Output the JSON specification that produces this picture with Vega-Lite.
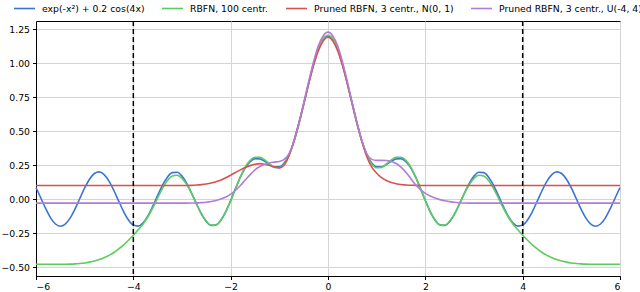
{
 "$schema": "https://vega.github.io/schema/vega-lite/v6.json",
 "width": 584,
 "height": 255,
 "autosize": "none",
 "padding": {"left": 36, "top": 21, "right": 20, "bottom": 16},
 "background": "white",
 "config": {
  "font": "DejaVu Sans",
  "view": {"stroke": "black", "strokeWidth": 1},
  "axis": {"labelFont": "DejaVu Sans", "labelFontSize": 9.3, "labelColor": "black", "domainColor": "black", "tickColor": "black", "tickSize": 3.5, "labelPadding": 3, "gridColor": "#d4d4d4", "gridWidth": 1, "title": null},
  "legend": {"orient": "none", "legendY": -24, "direction": "horizontal", "title": null, "symbolType": "stroke", "symbolSize": 441, "symbolStrokeWidth": 2, "labelFont": "DejaVu Sans", "labelFontSize": 9.3, "labelColor": "black", "labelOffset": 6, "labelLimit": 400, "padding": 0},
  "line": {"strokeWidth": 1.6, "interpolate": "monotone"}
 },
 "datasets": {
  "curves": [
   {"x": -6.0, "f": 0.0848, "rbfn": -0.48, "n01": 0.1, "u44": -0.03},
   {"x": -5.9, "f": 0.0076, "rbfn": -0.48, "n01": 0.1, "u44": -0.03},
   {"x": -5.8, "f": -0.0708, "rbfn": -0.48, "n01": 0.1, "u44": -0.03},
   {"x": -5.7, "f": -0.1381, "rbfn": -0.48, "n01": 0.1, "u44": -0.03},
   {"x": -5.6, "f": -0.1835, "rbfn": -0.48, "n01": 0.1, "u44": -0.03},
   {"x": -5.5, "f": -0.2, "rbfn": -0.48, "n01": 0.1, "u44": -0.03},
   {"x": -5.4, "f": -0.1849, "rbfn": -0.48, "n01": 0.1, "u44": -0.03},
   {"x": -5.3, "f": -0.1406, "rbfn": -0.479, "n01": 0.1, "u44": -0.03},
   {"x": -5.2, "f": -0.0741, "rbfn": -0.477, "n01": 0.1, "u44": -0.03},
   {"x": -5.1, "f": 0.0041, "rbfn": -0.474, "n01": 0.1, "u44": -0.03},
   {"x": -5.0, "f": 0.0816, "rbfn": -0.47, "n01": 0.1, "u44": -0.03},
   {"x": -4.9, "f": 0.1463, "rbfn": -0.464, "n01": 0.1, "u44": -0.03},
   {"x": -4.8, "f": 0.1878, "rbfn": -0.456, "n01": 0.1, "u44": -0.03},
   {"x": -4.7, "f": 0.1998, "rbfn": -0.445, "n01": 0.1, "u44": -0.03},
   {"x": -4.6, "f": 0.1801, "rbfn": -0.431, "n01": 0.1, "u44": -0.03},
   {"x": -4.5, "f": 0.1321, "rbfn": -0.414, "n01": 0.1, "u44": -0.03},
   {"x": -4.4, "f": 0.0632, "rbfn": -0.393, "n01": 0.1, "u44": -0.03},
   {"x": -4.3, "f": -0.0157, "rbfn": -0.367, "n01": 0.1, "u44": -0.03},
   {"x": -4.2, "f": -0.0921, "rbfn": -0.337, "n01": 0.1, "u44": -0.03},
   {"x": -4.1, "f": -0.154, "rbfn": -0.303, "n01": 0.1, "u44": -0.03},
   {"x": -4.0, "f": -0.1915, "rbfn": -0.266, "n01": 0.1, "u44": -0.03},
   {"x": -3.9, "f": -0.1988, "rbfn": -0.226, "n01": 0.1, "u44": -0.03},
   {"x": -3.8, "f": -0.1748, "rbfn": -0.183, "n01": 0.1, "u44": -0.03},
   {"x": -3.7, "f": -0.1231, "rbfn": -0.13, "n01": 0.1, "u44": -0.03},
   {"x": -3.6, "f": -0.052, "rbfn": -0.065, "n01": 0.1, "u44": -0.03},
   {"x": -3.5, "f": 0.0274, "rbfn": 0.008, "n01": 0.1, "u44": -0.03},
   {"x": -3.4, "f": 0.1024, "rbfn": 0.079, "n01": 0.1, "u44": -0.03},
   {"x": -3.3, "f": 0.1612, "rbfn": 0.136, "n01": 0.1, "u44": -0.03},
   {"x": -3.2, "f": 0.1946, "rbfn": 0.17, "n01": 0.1, "u44": -0.03},
   {"x": -3.1, "f": 0.1972, "rbfn": 0.175, "n01": 0.1, "u44": -0.03},
   {"x": -3.0, "f": 0.1688, "rbfn": 0.152, "n01": 0.1, "u44": -0.03},
   {"x": -2.9, "f": 0.1139, "rbfn": 0.105, "n01": 0.1, "u44": -0.03},
   {"x": -2.8, "f": 0.041, "rbfn": 0.04, "n01": 0.101, "u44": -0.029},
   {"x": -2.7, "f": -0.0382, "rbfn": -0.036, "n01": 0.103, "u44": -0.028},
   {"x": -2.6, "f": -0.1113, "rbfn": -0.107, "n01": 0.106, "u44": -0.026},
   {"x": -2.5, "f": -0.1659, "rbfn": -0.162, "n01": 0.111, "u44": -0.023},
   {"x": -2.4, "f": -0.1938, "rbfn": -0.192, "n01": 0.118, "u44": -0.018},
   {"x": -2.3, "f": -0.1899, "rbfn": -0.19, "n01": 0.128, "u44": -0.011},
   {"x": -2.2, "f": -0.1543, "rbfn": -0.156, "n01": 0.14, "u44": 0.0},
   {"x": -2.1, "f": -0.0917, "rbfn": -0.094, "n01": 0.157, "u44": 0.015},
   {"x": -2.0, "f": -0.0108, "rbfn": -0.012, "n01": 0.176, "u44": 0.036},
   {"x": -1.9, "f": 0.0773, "rbfn": 0.077, "n01": 0.196, "u44": 0.065},
   {"x": -1.8, "f": 0.1608, "rbfn": 0.163, "n01": 0.215, "u44": 0.1},
   {"x": -1.7, "f": 0.2295, "rbfn": 0.236, "n01": 0.232, "u44": 0.14},
   {"x": -1.6, "f": 0.2759, "rbfn": 0.285, "n01": 0.246, "u44": 0.18},
   {"x": -1.5, "f": 0.2974, "rbfn": 0.308, "n01": 0.256, "u44": 0.215},
   {"x": -1.4, "f": 0.296, "rbfn": 0.307, "n01": 0.261, "u44": 0.24},
   {"x": -1.3, "f": 0.2782, "rbfn": 0.288, "n01": 0.256, "u44": 0.256},
   {"x": -1.2, "f": 0.2544, "rbfn": 0.258, "n01": 0.247, "u44": 0.266},
   {"x": -1.1, "f": 0.2367, "rbfn": 0.233, "n01": 0.236, "u44": 0.272},
   {"x": -1.0, "f": 0.2372, "rbfn": 0.23, "n01": 0.229, "u44": 0.277},
   {"x": -0.9, "f": 0.2655, "rbfn": 0.257, "n01": 0.25, "u44": 0.292},
   {"x": -0.8, "f": 0.3276, "rbfn": 0.322, "n01": 0.32, "u44": 0.335},
   {"x": -0.7, "f": 0.4242, "rbfn": 0.42, "n01": 0.43, "u44": 0.425},
   {"x": -0.6, "f": 0.5502, "rbfn": 0.548, "n01": 0.56, "u44": 0.555},
   {"x": -0.5, "f": 0.6956, "rbfn": 0.695, "n01": 0.7, "u44": 0.705},
   {"x": -0.4, "f": 0.8463, "rbfn": 0.848, "n01": 0.845, "u44": 0.86},
   {"x": -0.3, "f": 0.9864, "rbfn": 0.99, "n01": 0.98, "u44": 1.005},
   {"x": -0.2, "f": 1.1001, "rbfn": 1.105, "n01": 1.09, "u44": 1.125},
   {"x": -0.1, "f": 1.1743, "rbfn": 1.18, "n01": 1.162, "u44": 1.2},
   {"x": 0.0, "f": 1.2, "rbfn": 1.205, "n01": 1.19, "u44": 1.228},
   {"x": 0.1, "f": 1.1743, "rbfn": 1.18, "n01": 1.162, "u44": 1.2},
   {"x": 0.2, "f": 1.1001, "rbfn": 1.105, "n01": 1.09, "u44": 1.125},
   {"x": 0.3, "f": 0.9864, "rbfn": 0.99, "n01": 0.98, "u44": 1.005},
   {"x": 0.4, "f": 0.8463, "rbfn": 0.848, "n01": 0.845, "u44": 0.86},
   {"x": 0.5, "f": 0.6956, "rbfn": 0.695, "n01": 0.7, "u44": 0.705},
   {"x": 0.6, "f": 0.5502, "rbfn": 0.548, "n01": 0.555, "u44": 0.555},
   {"x": 0.7, "f": 0.4242, "rbfn": 0.42, "n01": 0.42, "u44": 0.425},
   {"x": 0.8, "f": 0.3276, "rbfn": 0.322, "n01": 0.31, "u44": 0.33},
   {"x": 0.9, "f": 0.2655, "rbfn": 0.257, "n01": 0.235, "u44": 0.292},
   {"x": 1.0, "f": 0.2372, "rbfn": 0.23, "n01": 0.19, "u44": 0.285},
   {"x": 1.1, "f": 0.2367, "rbfn": 0.233, "n01": 0.158, "u44": 0.285},
   {"x": 1.2, "f": 0.2544, "rbfn": 0.258, "n01": 0.136, "u44": 0.284},
   {"x": 1.3, "f": 0.2782, "rbfn": 0.288, "n01": 0.122, "u44": 0.277},
   {"x": 1.4, "f": 0.296, "rbfn": 0.307, "n01": 0.113, "u44": 0.262},
   {"x": 1.5, "f": 0.2974, "rbfn": 0.308, "n01": 0.107, "u44": 0.235},
   {"x": 1.6, "f": 0.2759, "rbfn": 0.285, "n01": 0.104, "u44": 0.198},
   {"x": 1.7, "f": 0.2295, "rbfn": 0.236, "n01": 0.102, "u44": 0.152},
   {"x": 1.8, "f": 0.1608, "rbfn": 0.163, "n01": 0.101, "u44": 0.105},
   {"x": 1.9, "f": 0.0773, "rbfn": 0.077, "n01": 0.1, "u44": 0.07},
   {"x": 2.0, "f": -0.0108, "rbfn": -0.012, "n01": 0.1, "u44": 0.042},
   {"x": 2.1, "f": -0.0917, "rbfn": -0.094, "n01": 0.1, "u44": 0.022},
   {"x": 2.2, "f": -0.1543, "rbfn": -0.156, "n01": 0.1, "u44": 0.007},
   {"x": 2.3, "f": -0.1899, "rbfn": -0.19, "n01": 0.1, "u44": -0.004},
   {"x": 2.4, "f": -0.1938, "rbfn": -0.192, "n01": 0.1, "u44": -0.013},
   {"x": 2.5, "f": -0.1659, "rbfn": -0.162, "n01": 0.1, "u44": -0.019},
   {"x": 2.6, "f": -0.1113, "rbfn": -0.107, "n01": 0.1, "u44": -0.024},
   {"x": 2.7, "f": -0.0382, "rbfn": -0.036, "n01": 0.1, "u44": -0.027},
   {"x": 2.8, "f": 0.041, "rbfn": 0.04, "n01": 0.1, "u44": -0.029},
   {"x": 2.9, "f": 0.1139, "rbfn": 0.105, "n01": 0.1, "u44": -0.03},
   {"x": 3.0, "f": 0.1688, "rbfn": 0.152, "n01": 0.1, "u44": -0.03},
   {"x": 3.1, "f": 0.1972, "rbfn": 0.175, "n01": 0.1, "u44": -0.03},
   {"x": 3.2, "f": 0.1946, "rbfn": 0.17, "n01": 0.1, "u44": -0.03},
   {"x": 3.3, "f": 0.1612, "rbfn": 0.136, "n01": 0.1, "u44": -0.03},
   {"x": 3.4, "f": 0.1024, "rbfn": 0.079, "n01": 0.1, "u44": -0.03},
   {"x": 3.5, "f": 0.0274, "rbfn": 0.008, "n01": 0.1, "u44": -0.03},
   {"x": 3.6, "f": -0.052, "rbfn": -0.065, "n01": 0.1, "u44": -0.03},
   {"x": 3.7, "f": -0.1231, "rbfn": -0.13, "n01": 0.1, "u44": -0.03},
   {"x": 3.8, "f": -0.1748, "rbfn": -0.183, "n01": 0.1, "u44": -0.03},
   {"x": 3.9, "f": -0.1988, "rbfn": -0.226, "n01": 0.1, "u44": -0.03},
   {"x": 4.0, "f": -0.1915, "rbfn": -0.266, "n01": 0.1, "u44": -0.03},
   {"x": 4.1, "f": -0.154, "rbfn": -0.303, "n01": 0.1, "u44": -0.03},
   {"x": 4.2, "f": -0.0921, "rbfn": -0.337, "n01": 0.1, "u44": -0.03},
   {"x": 4.3, "f": -0.0157, "rbfn": -0.367, "n01": 0.1, "u44": -0.03},
   {"x": 4.4, "f": 0.0632, "rbfn": -0.393, "n01": 0.1, "u44": -0.03},
   {"x": 4.5, "f": 0.1321, "rbfn": -0.414, "n01": 0.1, "u44": -0.03},
   {"x": 4.6, "f": 0.1801, "rbfn": -0.431, "n01": 0.1, "u44": -0.03},
   {"x": 4.7, "f": 0.1998, "rbfn": -0.445, "n01": 0.1, "u44": -0.03},
   {"x": 4.8, "f": 0.1878, "rbfn": -0.456, "n01": 0.1, "u44": -0.03},
   {"x": 4.9, "f": 0.1463, "rbfn": -0.464, "n01": 0.1, "u44": -0.03},
   {"x": 5.0, "f": 0.0816, "rbfn": -0.47, "n01": 0.1, "u44": -0.03},
   {"x": 5.1, "f": 0.0041, "rbfn": -0.474, "n01": 0.1, "u44": -0.03},
   {"x": 5.2, "f": -0.0741, "rbfn": -0.477, "n01": 0.1, "u44": -0.03},
   {"x": 5.3, "f": -0.1406, "rbfn": -0.479, "n01": 0.1, "u44": -0.03},
   {"x": 5.4, "f": -0.1849, "rbfn": -0.48, "n01": 0.1, "u44": -0.03},
   {"x": 5.5, "f": -0.2, "rbfn": -0.48, "n01": 0.1, "u44": -0.03},
   {"x": 5.6, "f": -0.1835, "rbfn": -0.48, "n01": 0.1, "u44": -0.03},
   {"x": 5.7, "f": -0.1381, "rbfn": -0.48, "n01": 0.1, "u44": -0.03},
   {"x": 5.8, "f": -0.0708, "rbfn": -0.48, "n01": 0.1, "u44": -0.03},
   {"x": 5.9, "f": 0.0076, "rbfn": -0.48, "n01": 0.1, "u44": -0.03},
   {"x": 6.0, "f": 0.0848, "rbfn": -0.48, "n01": 0.1, "u44": -0.03}
  ],
  "bounds": [{"x": -4}, {"x": 4}]
 },
 "encoding": {
  "x": {"field": "x", "type": "quantitative", "scale": {"domain": [-6, 6], "nice": false, "zero": false}, "axis": {"values": [-6, -4, -2, 0, 2, 4, 6], "format": "d", "grid": true}}
 },
 "layer": [
  {
   "data": {"name": "curves"},
   "mark": "line",
   "encoding": {
    "y": {"field": "f", "type": "quantitative", "scale": {"domain": [-0.566, 1.31], "nice": false, "zero": false}, "axis": {"values": [-0.5, -0.25, 0, 0.25, 0.5, 0.75, 1, 1.25], "format": ".2f", "grid": true, "labelOverlap": false}},
    "color": {"datum": "exp(-x²) + 0.2 cos(4x)", "scale": {"range": ["#3b74d6"]}, "legend": {"legendX": -23}}
   }
  },
  {
   "data": {"name": "curves"},
   "mark": "line",
   "encoding": {
    "y": {"field": "rbfn", "type": "quantitative", "scale": {"domain": [-0.566, 1.31], "nice": false, "zero": false}, "axis": {"values": [-0.5, -0.25, 0, 0.25, 0.5, 0.75, 1, 1.25], "format": ".2f", "grid": true, "labelOverlap": false}},
    "color": {"datum": "RBFN, 100 centr.", "scale": {"range": ["#5ccd5c"]}, "legend": {"legendX": 125}}
   }
  },
  {
   "data": {"name": "curves"},
   "mark": "line",
   "encoding": {
    "y": {"field": "n01", "type": "quantitative", "scale": {"domain": [-0.566, 1.31], "nice": false, "zero": false}, "axis": {"values": [-0.5, -0.25, 0, 0.25, 0.5, 0.75, 1, 1.25], "format": ".2f", "grid": true, "labelOverlap": false}},
    "color": {"datum": "Pruned RBFN, 3 centr., N(0, 1)", "scale": {"range": ["#d9504f"]}, "legend": {"legendX": 249}}
   }
  },
  {
   "data": {"name": "curves"},
   "mark": "line",
   "encoding": {
    "y": {"field": "u44", "type": "quantitative", "scale": {"domain": [-0.566, 1.31], "nice": false, "zero": false}, "axis": {"values": [-0.5, -0.25, 0, 0.25, 0.5, 0.75, 1, 1.25], "format": ".2f", "grid": true, "labelOverlap": false}},
    "color": {"datum": "Pruned RBFN, 3 centr., U(-4, 4)", "scale": {"range": ["#b27cd6"]}, "legend": {"legendX": 434}}
   }
  },
  {
   "data": {"name": "bounds"},
   "mark": {"type": "rule", "color": "black", "strokeDash": [5, 3], "strokeWidth": 1.5},
   "encoding": {}
  }
 ],
 "resolve": {"scale": {"color": "independent"}, "legend": {"color": "independent"}}
}
